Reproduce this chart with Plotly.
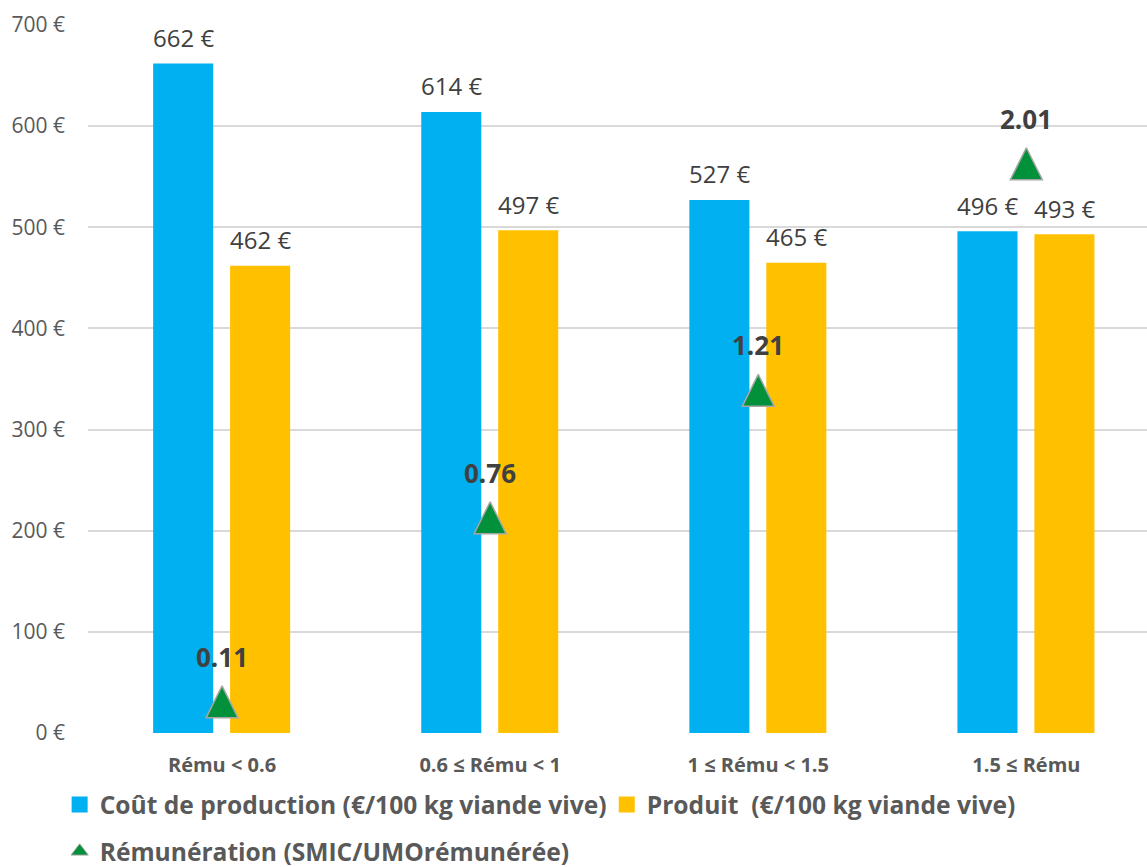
import plotly.graph_objects as go

categories = ["Rému < 0.6", "0.6 ≤ Rému < 1", "1 ≤ Rému < 1.5", "1.5 ≤ Rému"]
cout_production = [662, 614, 527, 496]
produit = [462, 497, 465, 493]
remuneration = [0.11, 0.76, 1.21, 2.01]
y_ticks = [0, 100, 200, 300, 400, 500, 600, 700]
y_tick_labels = [f"{v} €" for v in y_ticks]

BLUE = "#00B0F0"
YELLOW = "#FFC000"
GREEN = "#00913A"
FONT = "Open Sans"
xs = list(range(len(categories)))

BAR_W = 0.224
OFF_BLUE = -0.257
OFF_YEL = 0.030
TRI = 32

fig = go.Figure()
fig.add_trace(go.Bar(
    x=xs, y=cout_production, showlegend=False,
    marker=dict(color=BLUE, line=dict(width=0)), width=BAR_W, offset=OFF_BLUE,
    hoverinfo="skip"))
fig.add_trace(go.Bar(
    x=xs, y=produit, showlegend=False,
    marker=dict(color=YELLOW, line=dict(width=0)), width=BAR_W, offset=OFF_YEL,
    hoverinfo="skip"))
fig.add_trace(go.Scatter(
    x=xs, y=remuneration, yaxis="y2", mode="markers", showlegend=False,
    marker=dict(symbol="arrow-down", angle=180, standoff=TRI / 2, size=TRI, color=GREEN,
                line=dict(color="#A6A6A6", width=1.5)), hoverinfo="skip"))

# legend entries
fig.add_trace(go.Scatter(
    x=[None], y=[None], mode="markers", legend="legend",
    name="<b>Coût de production (€/100 kg viande vive)</b>",
    marker=dict(symbol="square", size=16, color=BLUE)))
fig.add_trace(go.Scatter(
    x=[None], y=[None], mode="markers", legend="legend3",
    name="<b>Produit  (€/100 kg viande vive)</b>",
    marker=dict(symbol="square", size=16, color=YELLOW)))
fig.add_trace(go.Scatter(
    x=[None], y=[None], yaxis="y2", mode="markers", legend="legend2",
    name="<b>Rémunération (SMIC/UMOrémunérée)</b>",
    marker=dict(symbol="triangle-up", size=15, color=GREEN,
                line=dict(color="#A6A6A6", width=1))))

annotations = []
for i in xs:
    annotations.append(dict(x=i + OFF_BLUE + BAR_W / 2, y=cout_production[i], xref="x", yref="y",
                            text=f"{cout_production[i]} €", showarrow=False, yshift=26,
                            font=dict(family=FONT, size=24, color="#404040")))
    annotations.append(dict(x=i + OFF_YEL + BAR_W / 2, y=produit[i], xref="x", yref="y",
                            text=f"{produit[i]} €", showarrow=False, yshift=26,
                            font=dict(family=FONT, size=24, color="#404040")))
    annotations.append(dict(x=i, y=remuneration[i], xref="x", yref="y2",
                            text=f"<b>{remuneration[i]:.2f}</b>", showarrow=False, yshift=45,
                            font=dict(family=FONT, size=26, color="#404040")))

legend_common = dict(orientation="h", xref="container", yref="container",
                     xanchor="left", yanchor="top", itemwidth=30,
                     font=dict(family=FONT, size=24.6, color="#595959"),
                     bgcolor="rgba(0,0,0,0)")

fig.update_layout(
    width=1147, height=867,
    margin=dict(l=88, r=0, t=25, b=134, autoexpand=False),
    paper_bgcolor="white", plot_bgcolor="white",
    barmode="overlay",
    font=dict(family=FONT, color="#595959"),
    xaxis=dict(range=[-0.5, 3.45], tickvals=xs, ticktext=[f"<b>{c}</b>" for c in categories],
               showgrid=False, zeroline=False, showline=False, automargin=False,
               tickfont=dict(family=FONT, size=20, color="#595959"), ticklabelstandoff=18),
    yaxis=dict(range=[0, 700], tickvals=y_ticks, ticktext=y_tick_labels, automargin=False,
               showgrid=True, gridcolor="#D9D9D9", gridwidth=1.5, zeroline=False,
               tickfont=dict(family=FONT, size=21, color="#595959"), ticklabelstandoff=22),
    yaxis2=dict(range=[0, 2.5], overlaying="y", side="right", visible=False),
    legend=dict(legend_common, x=0.052, y=0.098),
    legend3=dict(legend_common, x=0.529, y=0.098),
    legend2=dict(legend_common, x=0.052, y=0.044),
    annotations=annotations,
    showlegend=True,
)

fig.write_html("out.html")
